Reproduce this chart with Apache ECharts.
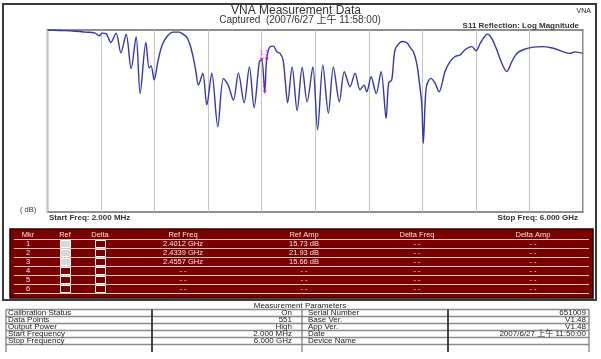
<!DOCTYPE html>
<html><head><meta charset="utf-8">
<script src="https://cdn.jsdelivr.net/npm/echarts@6/dist/echarts.min.js"></script>
<style>html,body{margin:0;padding:0;background:#fff}#c{width:601px;height:359px}</style>
</head><body><div id="c"></div>
<script>
// Trace: frequency (GHz) and return loss shown as S11 log magnitude (dB, plotted downward)
const freqGHz = [0.002,0.142,0.288,0.422,0.534,0.579,0.612,0.657,0.710,0.769,0.822,0.881,0.937,0.993,1.038,1.102,1.139,1.161,1.195,1.240,1.285,1.341,1.408,1.475,1.520,1.565,1.598,1.632,1.660,1.691,1.740,1.785,1.841,1.908,1.971,2.024,2.083,2.139,2.203,2.262,2.315,2.374,2.4012,2.4339,2.4557,2.494,2.531,2.569,2.606,2.640,2.668,2.690,2.741,2.797,2.853,2.909,2.973,3.026,3.085,3.147,3.203,3.270,3.326,3.390,3.446,3.502,3.547,3.577,3.626,3.682,3.738,3.794,3.822,3.857,3.894,3.950,3.987,4.029,4.062,4.099,4.137,4.163,4.193,4.211,4.230,4.249,4.294,4.342,4.387,4.454,4.510,4.566,4.622,4.678,4.754,4.802,4.847,4.883,4.928,4.977,5.034,5.090,5.146,5.202,5.258,5.331,5.444,5.555,5.668,5.779,5.854,5.910,6.000];
const lossDB = [10.0,10.1,10.2,10.4,10.6,11.1,10.6,10.7,12.4,10.6,14.4,10.8,17.4,11.3,22.2,12.4,17.3,16.9,19.6,15.8,12.9,11.2,10.4,10.4,10.8,11.5,12.9,15.2,17.7,20.6,18.3,24.4,18.3,28.6,19.3,20.6,23.5,18.3,24.0,17.1,24.9,16.1,15.73,21.93,15.66,13.2,13.1,14.2,14.5,15.8,20.6,24.0,17.1,25.5,17.2,23.8,17.1,29.2,16.7,26.0,17.1,23.8,18.0,20.9,18.3,21.5,20.6,21.9,19.0,22.2,18.0,27.0,20.2,19.6,13.8,12.4,12.2,12.5,13.3,14.2,16.4,19.6,24.1,31.8,24.4,20.6,19.3,20.2,21.9,18.0,16.1,15.1,14.8,13.8,13.2,14.0,12.6,11.6,10.8,11.6,13.8,16.4,18.0,16.1,14.5,13.8,13.3,13.2,13.5,14.2,14.5,14.2,14.5];

const markerNames = ['1','2','3'];
const markerFreq = [2.4012, 2.4339, 2.4557];
const markerAmp = [15.73, 21.93, 15.66];

const mkrHeaders = ['Mkr','Ref','Delta','Ref Freq','Ref Amp','Delta Freq','Delta Amp'];
const mkrIds = ['1','2','3','4','5','6'];
const mkrRefOn = [true,true,true,false,false,false];
const mkrRefFreq = ['2.4012 GHz','2.4339 GHz','2.4557 GHz','- -','- -','- -'];
const mkrRefAmp = ['15.73 dB','21.93 dB','15.66 dB','- -','- -','- -'];
const mkrDeltaFreq = ['- -','- -','- -','- -','- -','- -'];
const mkrDeltaAmp = ['- -','- -','- -','- -','- -','- -'];

const paramTitle = 'Measurement Parameters';
const paramLeftLabels = ['Calibration Status','Data Points','Output Power','Start Frequency','Stop Frequency',''];
const paramLeftValues = ['On','551','High','2.000 MHz','6.000 GHz',''];
const paramRightLabels = ['Serial Number','Base Ver.','App Ver.','Date','Device Name',''];
const paramRightValues = ['651009','V1.48','V1.48','2007/6/27 上午 11:50:00','',''];

const FONT = '"Liberation Sans", Arial, "Noto Sans CJK SC", sans-serif';
const chart = echarts.init(document.getElementById('c'), null, {renderer:'canvas'});

const trace = freqGHz.map((f,i)=>[f, lossDB[i]]);
const markers = markerFreq.map((f,i)=>({name:markerNames[i], value:[f, markerAmp[i]]}));

const g = [];
function txt(x,y,t,size,opt){opt=opt||{};g.push({type:'text',silent:true,z:10,style:{text:t,x:x,y:y,
  font:(opt.weight||'normal')+' '+size+'px '+FONT,fill:opt.color||'#222',
  textAlign:opt.align||'left',textVerticalAlign:'middle'}});}
function line(x1,y1,x2,y2,c,w){g.push({type:'line',silent:true,z:5,shape:{x1,y1,x2,y2},style:{stroke:c,lineWidth:w}});}
function rect(x,y,w,h,fill,stroke,lw,z){g.push({type:'rect',silent:true,z:z||3,shape:{x,y,width:w,height:h},style:{fill:fill||'none',stroke:stroke||'none',lineWidth:lw||1}});}

// outer frame
rect(3,4,593,296,'none','#3a3a3a',2,2);
// titles
txt(296,10.5,'VNA Measurement Data',12,{align:'center',color:'#333'});
txt(300,20,'Captured  (2007/6/27 上午 11:58:00)',10,{align:'center',color:'#333'});
txt(591,11,'VNA',7,{align:'right'});
txt(579,25.5,'S11 Reflection: Log Magnitude',8,{align:'right',weight:'bold',color:'#333'});
txt(20,210,'( dB)',7.5,{color:'#333'});
txt(49,217.5,'Start Freq: 2.000 MHz',8,{weight:'bold',color:'#333'});
txt(578,217.5,'Stop Freq: 6.000 GHz',8,{align:'right',weight:'bold',color:'#333'});

// marker table
const RED='#7a0000', LT='#f2e2e2', SEP='#d9c4c4';
rect(10,229,583,69,RED,'#2a0000',1.5,3);
const colX=[28,65,100,183,304,417,533];
mkrHeaders.forEach((h,i)=>txt(colX[i],234.5,h,7.5,{align:'center',color:LT}));
const rowY=[244,253,262,271,280,289];
line(14,239.5,589,239.5,SEP,1);
rowY.forEach((y,r)=>{
  line(14,y+4.5,589,y+4.5,SEP,1);
  txt(colX[0],y,mkrIds[r],7.5,{align:'center',color:LT});
  rect(60.5,y-3.5,10,7,mkrRefOn[r]?'#d8d8d8':'none','#ffffff',1,6);
  rect(95.5,y-3.5,10,7,'none','#ffffff',1,6);
  txt(colX[3],y,mkrRefFreq[r],7.5,{align:'center',color:LT});
  txt(colX[4],y,mkrRefAmp[r],7.5,{align:'center',color:LT});
  txt(colX[5],y,mkrDeltaFreq[r],7.5,{align:'center',color:LT});
  txt(colX[6],y,mkrDeltaAmp[r],7.5,{align:'center',color:LT});
});

// parameters table
txt(300,305.5,paramTitle,8,{align:'center'});
const pTop=309.5, pH=7;
for(let k=0;k<6;k++) line(6,pTop+k*pH,589,pTop+k*pH,'#8a8a8a',1.5);
[6,152,302,448,589].forEach((x,i)=>line(x,pTop,x,352,i===1||i===3?'#333':'#777',i===1||i===3?1.8:1.2));
for(let k=0;k<6;k++){
  const y=pTop+k*pH+3.6;
  txt(8,y,paramLeftLabels[k],8);
  txt(292,y,paramLeftValues[k],8,{align:'right'});
  txt(308,y,paramRightLabels[k],8);
  txt(586,y,paramRightValues[k],8,{align:'right'});
}

chart.setOption({
  animation:false,
  backgroundColor:'#ffffff',
  grid:{left:47.5,top:30,width:535.5,height:182,show:true,borderColor:'#6a6a6a',borderWidth:1.5,backgroundColor:'transparent'},
  xAxis:{type:'value',min:0,max:6,interval:0.6,axisLine:{show:false},axisTick:{show:false},axisLabel:{show:false},
    splitLine:{show:true,lineStyle:{color:'#c4c4c4',width:1}}},
  yAxis:{type:'value',min:10,max:45,inverse:true,axisLine:{show:false},axisTick:{show:false},axisLabel:{show:false},splitLine:{show:false}},
  series:[
    {type:'line',data:trace,showSymbol:false,smooth:0.3,lineStyle:{color:'#3636aa',width:1.4},z:3},
    {type:'scatter',data:markers,symbol:'triangle',symbolSize:4,symbolRotate:180,itemStyle:{color:'#e000e0'},z:4,
      label:{show:true,formatter:'{b}',position:'top',distance:1,color:'#e000e0',fontSize:7,fontFamily:FONT}}
  ],
  graphic:g
});
</script></body></html>
